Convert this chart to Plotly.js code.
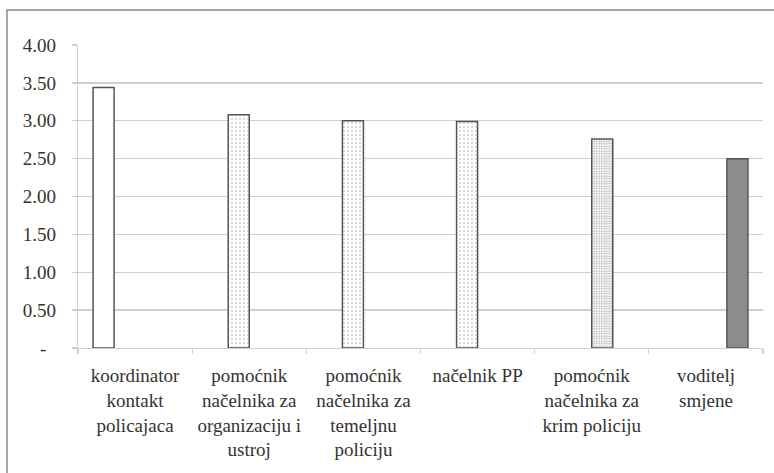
<!DOCTYPE html>
<html>
<head>
<meta charset="utf-8">
<script src="https://cdn.plot.ly/plotly-3.0.1.min.js"></script>
<style>
html,body{margin:0;padding:0;background:#fff;}
#chart{width:774px;height:473px;}
</style>
</head>
<body>
<div id="chart"></div>
<script>
// Data
var categories = [
  "koordinator<br>kontakt<br>policajaca",
  "pomoćnik<br>načelnika za<br>organizaciju i<br>ustroj",
  "pomoćnik<br>načelnika za<br>temeljnu<br>policiju",
  "načelnik PP",
  "pomoćnik<br>načelnika za<br>krim policiju",
  "voditelj<br>smjene"
];
var values = [3.44, 3.08, 3.00, 2.99, 2.76, 2.50];
// which series (fill style) each category's bar belongs to
var seriesOfCategory = [0, 1, 1, 1, 2, 3];
var seriesNames = ["s1", "s2", "s3", "s4"];
var yTickVals = [0, 0.5, 1, 1.5, 2, 2.5, 3, 3.5, 4];
var yTickText = ["-\u00a0\u00a0", "0.50", "1.00", "1.50", "2.00", "2.50", "3.00", "3.50", "4.00"];

var seriesStyles = [
  {color: "#ffffff", pattern: {shape: ""}},
  {color: "#ffffff", pattern: {shape: ".", size: 4, solidity: 0.12, fgcolor: "#444444", bgcolor: "#ffffff", fillmode: "overlay"}},
  {color: "#ffffff", pattern: {shape: ".", size: 2.5, solidity: 0.4, fgcolor: "#555555", bgcolor: "#ffffff", fillmode: "overlay"}},
  {color: "#8c8c8c", pattern: {shape: ""}}
];

var FONT = "Liberation Serif";
var FS = 19;

var traces = seriesNames.map(function (name, s) {
  return {
    type: "bar",
    name: name,
    x: categories,
    y: values.map(function (v, i) { return seriesOfCategory[i] === s ? v : null; }),
    marker: {
      color: seriesStyles[s].color,
      pattern: seriesStyles[s].pattern,
      line: {color: "#555555", width: 1.5}
    },
    hoverinfo: "skip"
  };
});

var L = 78, R = 763, T = 45, B = 348, W = 774, H = 473;
var pw = R - L, ph = B - T;
function px2x(p) { return (p - L) / pw; }
function py2y(p) { return (B - p) / ph; }

var layout = {
  width: W, height: H,
  margin: {l: L, r: W - R, t: T, b: H - B, pad: 0},
  paper_bgcolor: "#ffffff",
  plot_bgcolor: "#ffffff",
  showlegend: false,
  barmode: "group",
  bargap: 0.264,
  bargroupgap: 0,
  font: {family: FONT, size: FS, color: "#333333"},
  xaxis: {
    type: "category",
    tickson: "boundaries",
    ticks: "outside", ticklen: 5, tickcolor: "#d0d0d0", tickwidth: 1.3,
    showline: true, linecolor: "#d0d0d0", linewidth: 1.3,
    showgrid: false,
    tickangle: 0,
    ticklabelstandoff: 10,
    tickfont: {family: FONT, size: FS, color: "#333333"}
  },
  yaxis: {
    range: [0, 4],
    tickvals: yTickVals,
    ticktext: yTickText,
    ticks: "outside", ticklen: 5, tickcolor: "#d0d0d0", tickwidth: 1.3,
    showline: true, linecolor: "#d0d0d0", linewidth: 1.3,
    showgrid: true, gridcolor: "#d0d0d0", gridwidth: 1.3,
    zeroline: false,
    ticklabelstandoff: 12,
    tickfont: {family: FONT, size: FS, color: "#333333"}
  },
  shapes: [{
    type: "rect", xref: "paper", yref: "paper",
    x0: px2x(7), x1: px2x(800), y0: py2y(500), y1: py2y(10),
    line: {color: "#8a8a8a", width: 1.5},
    fillcolor: "rgba(0,0,0,0)",
    layer: "below"
  }]
};

Plotly.newPlot("chart", traces, layout, {displayModeBar: false, staticPlot: true});
</script>
</body>
</html>
